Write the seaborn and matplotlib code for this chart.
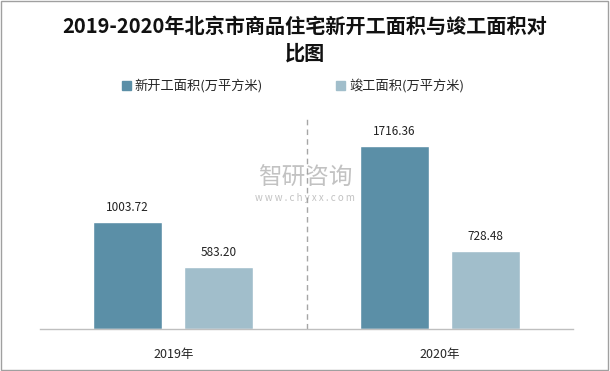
import matplotlib
matplotlib.use('Agg')
import matplotlib.pyplot as plt
import seaborn as sns
import pandas as pd
from matplotlib.patches import Rectangle

# ============ Data ============
years = ['2019年', '2020年']
series_names = ['新开工面积(万平方米)', '竣工面积(万平方米)']
new_start = [1003.72, 1716.36]
completed = [583.20, 728.48]
colors = ['#5B8FA7', '#A1BECB']

df = pd.DataFrame({
    'year': years * 2,
    'series': [series_names[0]] * 2 + [series_names[1]] * 2,
    'value': new_start + completed,
})

# ============ Plot ============
sns.set_theme(style='white')
plt.rcParams['font.family'] = ['Noto Sans CJK SC', 'DejaVu Sans']

fig = plt.figure(figsize=(6.1, 3.71), dpi=100)
ax = fig.add_axes([40 / 610, 1 - 329 / 371, 533 / 610, 213 / 371])

sns.barplot(data=df, x='year', y='value', hue='series', palette=colors,
            saturation=1, width=0.683, gap=0.24, ax=ax, legend=False)

ax.set_ylim(0, 2000)
ax.set_xlim(-0.5, 1.5)
ax.set_xlabel('')
ax.set_ylabel('')
ax.set_yticks([])
for side in ['top', 'left', 'right']:
    ax.spines[side].set_visible(False)
ax.spines['bottom'].set_color('#BFBFBF')
ax.spines['bottom'].set_linewidth(1)
ax.tick_params(axis='x', length=0, labelsize=9, pad=14)

# value labels
for container in ax.containers:
    ax.bar_label(container, fmt='%.2f', padding=6, fontsize=8.5, color='#222222')

# dashed separator between years
ax.axvline(0.5, color='#A6A6A6', linestyle=(0, (4, 3)), linewidth=1)

# title
fig.text(0.5, 1 - 26 / 371, '2019-2020年北京市商品住宅新开工面积与竣工面积对',
         ha='center', va='center', fontsize=14.5, fontweight='bold', color='#111111')
fig.text(0.5, 1 - 53 / 371, '比图', ha='center', va='center', fontsize=14.5,
         fontweight='bold', color='#111111')

# legend
handles = [Rectangle((0, 0), 1, 1, color=c) for c in colors]
fig.legend(handles, series_names, loc='center', bbox_to_anchor=(0.48, 1 - 86 / 371),
           ncol=2, frameon=False, fontsize=9.5, handlelength=0.7, handleheight=0.7,
           columnspacing=5.5, handletextpad=0.3)

# watermark
fig.text(0.5, 1 - 178 / 371, '智研咨询', ha='center', va='center', fontsize=17,
         color='#9A9A9A', alpha=0.6)
fig.text(0.5, 1 - 198 / 371, 'w w w . c h y x x . c o m', ha='center', va='center',
         fontsize=7, color='#9A9A9A', alpha=0.6)

# outer border
fig.patches.append(Rectangle((0.002, 0.003), 0.995, 0.994, transform=fig.transFigure,
                             fill=False, edgecolor='#A0A0A0', linewidth=1))

fig.savefig('out.png', dpi=100)
